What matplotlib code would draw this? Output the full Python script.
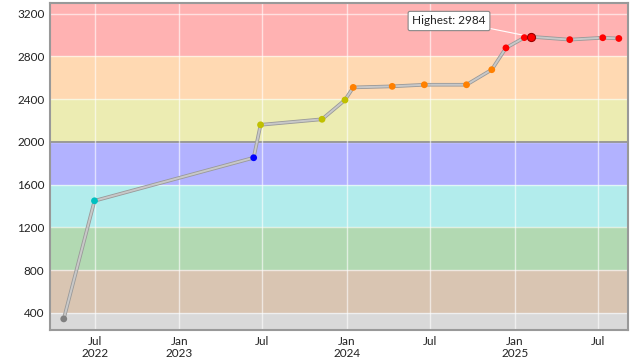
import pandas as pd
import matplotlib.pyplot as plt
import matplotlib.dates as mdates
import matplotlib.patheffects as pe

plt.rcParams['font.family'] = ['Lato', 'DejaVu Sans']

# rating history (date, rating)
datas = ["2022-04-24", "2022-06-30", "2023-06-12", "2023-06-27", "2023-11-08",
         "2023-12-28", "2024-01-15", "2024-04-09", "2024-06-18", "2024-09-18",
         "2024-11-12", "2024-12-13", "2025-01-22", "2025-02-06", "2025-05-01",
         "2025-07-12", "2025-08-16"]
ratings = [344, 1449, 1852, 2160, 2212, 2392, 2510, 2520, 2535, 2535,
           2676, 2880, 2976, 2984, 2957, 2975, 2968]

# faixas de cor (limite inferior, cor da faixa, cor do ponto)
faixas_inicio = [0, 400, 800, 1200, 1600, 2000, 2400, 2800]
faixas_cor = ["#D9D9D9", "#D9C5B2", "#B2D9B2", "#B2ECEC", "#B2B2FF", "#ECECB2", "#FFD9B2", "#FFB2B2"]
pontos_cor = ["#808080", "#804000", "#008000", "#00C0C0", "#0000FF", "#C0C000", "#FF8000", "#FF0000"]

datas = pd.to_datetime(datas)

fig = plt.figure(figsize=(6.4, 3.6), dpi=100)
ax = fig.add_axes([50 / 640, 30 / 360, 578 / 640, 327 / 360])

ymin, ymax = 240, 3300
for i, ini in enumerate(faixas_inicio):
    fim = faixas_inicio[i + 1] if i + 1 < len(faixas_inicio) else 10000
    ax.axhspan(ini, fim, color=faixas_cor[i], lw=0, zorder=0)

for v in range(400, 3300, 400):
    ax.axhline(v, color="white", lw=1, alpha=0.6, zorder=1)
ax.axhline(2000, color="#8C8C8C", lw=1.2, zorder=1)

# eixo x
ax.set_xlim(pd.Timestamp("2022-03-25"), pd.Timestamp("2025-09-05"))
ax.set_ylim(ymin, ymax)
ax.xaxis.set_major_locator(mdates.MonthLocator(bymonth=[1, 7]))


def fmt_data(x, pos):
    d = mdates.num2date(x)
    if d.month == 1:
        return "Jan\n%d" % d.year
    return "Jul\n%d" % d.year if d.year == 2022 else "Jul"


ax.xaxis.set_major_formatter(plt.FuncFormatter(fmt_data))
ax.set_yticks(range(400, 3300, 400))
ax.grid(axis="x", color="white", lw=1, alpha=0.6, zorder=1)
ax.tick_params(length=0, labelsize=8.5, colors="#222222", pad=4)
for lbl in ax.get_xticklabels():
    lbl.set_linespacing(1.2)

for s in ax.spines.values():
    s.set_color("#999999")
    s.set_linewidth(1.5)

sombra = [pe.Stroke(linewidth=2.6, foreground="#999999"), pe.Normal()]
ax.plot(datas, ratings, color="#C8C8C8", lw=1.4, zorder=3, path_effects=sombra)


def cor_ponto(r):
    c = pontos_cor[0]
    for ini, cor in zip(faixas_inicio, pontos_cor):
        if r >= ini:
            c = cor
    return c


cores = [cor_ponto(r) for r in ratings]
ax.scatter(datas, ratings, s=24, c=cores, edgecolors="none", zorder=4)

# ponto mais alto
im = ratings.index(max(ratings))
ax.scatter([datas[im]], [ratings[im]], s=34, c=cores[im], edgecolors="#990000",
           linewidths=0.8, zorder=5)

tx = pd.Timestamp("2024-11-10")
ax.plot([tx, datas[im]], [3060, ratings[im]], color="white", lw=0.8, zorder=3)
ax.annotate("Highest: %d" % max(ratings), xy=(datas[im], ratings[im]),
            xytext=(449, 339), textcoords="figure pixels", ha="center", va="center",
            fontsize=8.5, color="#222222", zorder=6,
            bbox=dict(boxstyle="round,pad=0.35,rounding_size=0.15", fc="white",
                      ec="#888888", lw=0.8))

fig.savefig("out.png", dpi=100)
